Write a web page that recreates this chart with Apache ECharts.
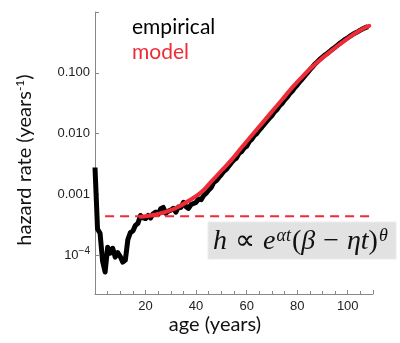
<!DOCTYPE html>
<html>
<head>
<meta charset="utf-8">
<script src="https://cdn.jsdelivr.net/npm/echarts@6/dist/echarts.min.js"></script>
<style>
  html, body { margin: 0; padding: 0; background: #fff; }
  #chart { width: 400px; height: 343px; }
</style>
</head>
<body>
<div id="chart"></div>
<script>
// empirical hazard, one value per year of age starting at 0
const empiricalAges = [
  0, 1, 2, 3, 4, 5, 6, 7, 8, 9, 10, 11, 12, 13, 14, 15, 16, 17, 18, 19,
  20, 21, 22, 23, 24, 25, 26, 27, 28, 29, 30, 31, 32, 33, 34, 35, 36, 37, 38, 39,
  40, 41, 42, 43, 44, 45, 46, 47, 48, 49, 50, 51, 52, 53, 54, 55, 56, 57, 58, 59,
  60, 61, 62, 63, 64, 65, 66, 67, 68, 69, 70, 71, 72, 73, 74, 75, 76, 77, 78, 79,
  80, 81, 82, 83, 84, 85, 86, 87, 88, 89, 90, 91, 92, 93, 94, 95, 96, 97, 98, 99,
  100, 101, 102, 103, 104, 105, 106, 107, 108
];
const empiricalHazard = [
  0.00277, 0.00027, 0.00023, 0.000080, 0.000053, 0.000135, 0.000108, 0.000130, 0.000093, 0.000110,
  0.000095, 0.000077, 0.000083, 0.00018, 0.000235, 0.00025, 0.00031, 0.000335, 0.00045, 0.00041,
  0.00040, 0.00045, 0.00041, 0.00048, 0.00051, 0.00047, 0.00058, 0.00061, 0.00049, 0.00053,
  0.00055, 0.00059, 0.00051, 0.00062, 0.00061, 0.00074, 0.00063, 0.00059, 0.00068, 0.00071,
  0.00074, 0.00084, 0.00082, 0.00096, 0.00105, 0.00118, 0.00130, 0.00158, 0.00168, 0.00190,
  0.00212, 0.00240, 0.00258, 0.00295, 0.00332, 0.00370, 0.00398, 0.00475, 0.00505, 0.00580,
  0.00622, 0.00735, 0.00800, 0.00925, 0.0100, 0.0114, 0.0127, 0.0143, 0.0160, 0.0180,
  0.0197, 0.0227, 0.0248, 0.0285, 0.0312, 0.0358, 0.0395, 0.0452, 0.0497, 0.0565,
  0.0628, 0.0712, 0.0790, 0.0890, 0.100, 0.112, 0.124, 0.139, 0.152, 0.167,
  0.181, 0.196, 0.210, 0.227, 0.246, 0.264, 0.286, 0.309, 0.331, 0.355,
  0.377, 0.403, 0.427, 0.452, 0.476, 0.503, 0.530, 0.553, 0.575
];

// model curve
const modelAges = [18, 22, 26, 30, 34, 38, 42, 46, 50, 54, 58, 62, 66, 70, 74, 78, 82, 86, 90, 94, 98, 102, 106, 108.5];
const modelHazard = [
  0.00043, 0.00045, 0.00049, 0.00055, 0.00066, 0.00083, 0.00108, 0.00162, 0.00245, 0.0037,
  0.0059, 0.0093, 0.0146, 0.023, 0.036, 0.057, 0.086, 0.126, 0.176, 0.238,
  0.32, 0.42, 0.53, 0.59
];

// red dashed baseline
const baselineAges = [4, 112];
const baselineHazard = [0.000435, 0.000435];

const xTicks = [20, 40, 60, 80, 100];
const yTickLabels = { '0.1': '0.100', '0.01': '0.010', '0.001': '0.001', '0.0001': '10{s|−4}' };

const pairs = (xs, ys) => xs.map((x, i) => [x, ys[i]]);

const chart = echarts.init(document.getElementById('chart'));
const sans = 'Lato';
const red = '#ee2b36';
const option = {
  animation: false,
  grid: { left: 95, right: 27, top: 12, bottom: 49 },
  xAxis: {
    type: 'value',
    min: 0,
    max: 110,
    interval: 20,
    axisLine: { onZero: false, lineStyle: { color: '#888', width: 1 } },
    axisTick: { inside: true, length: 4, lineStyle: { color: '#888' } },
    minorTick: { show: true, splitNumber: 4, length: 3, lineStyle: { color: '#888' } },
    splitLine: { show: false },
    axisLabel: {
      margin: 6,
      fontFamily: 'Liberation Sans',
      fontSize: 13,
      color: '#222',
      formatter: v => (xTicks.includes(v) ? String(v) : '')
    }
  },
  yAxis: {
    type: 'log',
    logBase: 10,
    min: 0.000023,
    max: 1,
    axisLine: { show: true, lineStyle: { color: '#888', width: 1 } },
    axisTick: { show: true, inside: true, length: 4, lineStyle: { color: '#888' } },
    splitLine: { show: false },
    axisLabel: {
      margin: 5,
      fontFamily: 'Liberation Sans',
      fontSize: 13,
      color: '#222',
      formatter: v => {
        for (const k in yTickLabels) {
          if (Math.abs(v / Number(k) - 1) < 1e-6) return yTickLabels[k];
        }
        return '';
      },
      rich: {
        s: { fontSize: 10, fontFamily: 'Liberation Sans', color: '#222', verticalAlign: 'top', padding: [0, 0, 8, 0] }
      }
    }
  },
  legend: {
    orient: 'vertical',
    left: 122,
    top: 12,
    itemWidth: 0,
    itemHeight: 0,
    itemGap: 4,
    selectedMode: false,
    data: [
      { name: 'empirical', icon: 'rect', textStyle: { color: '#000' } },
      { name: 'model', icon: 'rect', textStyle: { color: red } }
    ],
    textStyle: { fontFamily: sans, fontSize: 21 }
  },
  series: [
    {
      name: 'empirical',
      type: 'line',
      data: pairs(empiricalAges, empiricalHazard),
      showSymbol: false,
      lineStyle: { color: '#000', width: 5, join: 'round' },
      itemStyle: { color: '#000' },
      z: 2
    },
    {
      name: 'baseline',
      type: 'line',
      data: pairs(baselineAges, baselineHazard),
      showSymbol: false,
      clip: false,
      lineStyle: { color: red, width: 2, type: [9, 6] },
      z: 3
    },
    {
      name: 'model',
      type: 'line',
      data: pairs(modelAges, modelHazard),
      smooth: true,
      showSymbol: false,
      lineStyle: { color: red, width: 4, cap: 'round' },
      itemStyle: { color: red },
      z: 4
    }
  ],
  graphic: [
    {
      type: 'text',
      x: 215,
      y: 325,
      style: {
        text: 'age (years)',
        font: '20px ' + sans,
        fill: '#111',
        align: 'center',
        verticalAlign: 'middle'
      }
    },
    {
      type: 'text',
      x: 25,
      y: 160,
      rotation: Math.PI / 2,
      style: {
        text: 'hazard rate (years{s|-1})',
        font: '20px ' + sans,
        fill: '#111',
        align: 'center',
        verticalAlign: 'middle',
        rich: {
          s: { font: '12px ' + sans, fill: '#111', verticalAlign: 'top', padding: [0, 0, 10, 0] }
        }
      }
    },
    {
      type: 'group',
      children: [
        {
          type: 'rect',
          shape: { x: 208, y: 222, width: 188, height: 37 },
          style: { fill: '#e2e2e2', stroke: '#ececec', lineWidth: 1 }
        },
        {
          type: 'text',
          x: 213,
          y: 242,
          style: {
            text: '{i|h}{op|∝}{i|e}{s|αt}{n|(}{i|β}{op|−}{i|ηt}{n|)}{s|θ}',
            verticalAlign: 'middle',
            rich: {
              i: { font: 'italic 28px "Liberation Serif"', fill: '#111' },
              n: { font: '28px "Liberation Serif"', fill: '#111' },
              op: { font: '28px "Liberation Serif"', fill: '#111', padding: [0, 8, 0, 8] },
              s: { font: 'italic 18px "Liberation Serif"', fill: '#111', verticalAlign: 'top', padding: [0, 1, 12, 1] }
            }
          }
        }
      ]
    }
  ]
};
option && chart.setOption(option);
</script>
</body>
</html>
